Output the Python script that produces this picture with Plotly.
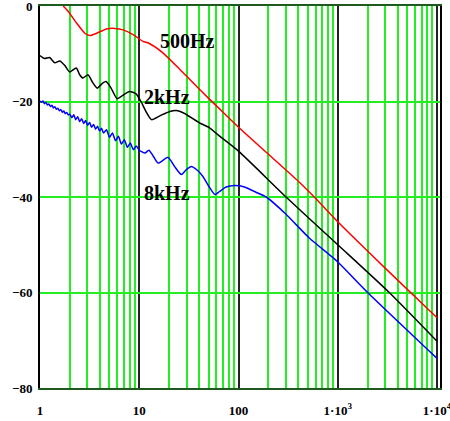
import plotly.graph_objects as go

# Frequency axis values (Hz) and level (dB)
freq_500 = [1.71, 1.92, 2.34, 2.83, 3.18, 3.72, 4.68, 5.67, 6.87, 8.66, 10.9, 12.5,
            17.3, 25.7, 40.6, 64, 100, 410, 580, 1000, 3000, 10000]
db_500 = [0.0, -1.1, -3.6, -5.7, -6.2, -5.7, -4.8, -4.7, -5.0, -6.0, -7.4, -7.8,
          -9.8, -13.3, -17.5, -21.5, -25.4, -36.9, -40.0, -45.2, -54.9, -65.3]

freq_2k = [1.0, 1.11, 1.25, 1.41, 1.58, 1.77, 1.99, 2.32, 2.51, 2.70, 3.04, 3.41,
           3.77, 4.30, 4.64, 5.20, 5.98, 6.82, 7.97, 9.29, 10.4, 11.7, 13.3, 16.1,
           20.3, 23.7, 28, 40.6, 51.1, 64, 100, 301, 1000, 3300, 10000]
db_2k = [-10.4, -11.0, -10.8, -11.9, -11.5, -12.4, -13.8, -13.0, -14.4, -15.1, -14.4, -16.1,
         -17.2, -16.1, -15.8, -17.2, -19.4, -18.7, -17.9, -18.4, -20.0, -22.1, -23.8, -23.0,
         -22.1, -21.9, -22.4, -24.5, -25.5, -27.2, -30.4, -40.0, -50.0, -60.0, -70.2]

freq_8k = [1.0, 1.035, 1.072, 1.109, 1.148, 1.189, 1.230, 1.274, 1.318, 1.365, 1.413,
           1.462, 1.514, 1.567, 1.622, 1.679, 1.738, 1.799, 1.862, 1.928, 1.995,
           2.089, 2.188, 2.291, 2.399, 2.512, 2.630, 2.754, 2.884, 3.020, 3.162,
           3.311, 3.467, 3.631, 3.802, 3.981, 4.169, 4.365,
           4.677, 5.012, 5.370, 5.754, 6.166, 6.607, 7.079, 7.586, 8.128, 8.710, 9.333,
           10.0, 11.4, 12.5, 13.8, 15.5, 19.5, 22.5, 26.6, 30.0, 33.5, 38.0, 43.8,
           50.0, 58.0, 64, 75, 91, 115, 150, 190, 301, 517, 1000, 2000, 10000]
db_8k = [-19.9, -20.15, -19.9, -20.45, -20.2, -20.75, -20.5, -21.05, -20.8, -21.35, -21.1,
         -21.65, -21.4, -21.95, -21.7, -22.25, -22.0, -22.55, -22.3, -22.85, -22.6,
         -23.4, -22.8, -23.8, -23.2, -24.2, -23.6, -24.6, -24.0, -25.0, -24.4,
         -25.4, -24.8, -25.8, -25.2, -26.2, -25.6, -26.6,
         -25.9, -27.5, -26.6, -28.2, -27.3, -28.9, -28.0, -29.6, -28.7, -30.1, -29.3,
         -30.2, -30.8, -30.2, -31.4, -32.9, -31.7, -33.5, -35.3, -34.2, -33.6, -34.3, -35.7,
         -37.7, -39.5, -38.9, -37.9, -37.6, -37.9, -39.0, -40.0, -43.6, -48.6, -53.6, -60.0, -73.8]

labels = ["500Hz", "2kHz", "8kHz"]

x_ticks = [1, 10, 100, 1000, 10000]
x_ticktext = ["1", "10", "100", "1\u00b710<sup>3</sup>", "1\u00b710<sup>4</sup>"]
y_ticks = [-80, -60, -40, -20, 0]
y_ticktext = ["\u221280", "\u221260", "\u221240", "\u221220", "0"]

# minor green grid at 2..9 of every decade
minor_vals = [m * 10 ** d for d in range(4) for m in range(2, 10)]

fig = go.Figure()

for f, db, col in [(freq_500, db_500, "#ff0000"),
                   (freq_2k, db_2k, "#000000"),
                   (freq_8k, db_8k, "#0000ff")]:
    fig.add_trace(go.Scatter(
        x=f, y=db, mode="lines",
        line=dict(color=col, width=1.5, shape="spline", smoothing=0.6),
        showlegend=False, hoverinfo="skip"
    ))

# curve labels (x in log10 units for a log axis)
label_pos = [(1.49, -7.3), (1.284, -19.0), (1.284, -39.1)]
for txt, (lx, ly) in zip(labels, label_pos):
    fig.add_annotation(
        x=lx, y=ly, text="<b>" + txt + "</b>", showarrow=False,
        font=dict(family="Liberation Serif", size=20, color="black"),
        bgcolor="rgba(0,0,0,0)"
    )

tick_font = dict(family="Liberation Serif", size=13, color="black", weight="bold")

fig.update_layout(
    width=450, height=421,
    margin=dict(l=40, r=10, t=6, b=33),
    paper_bgcolor="white", plot_bgcolor="white",
    xaxis=dict(
        type="log", range=[0, 4.03], automargin=False, ticklabeloverflow="allow",
        tickmode="array", tickvals=x_ticks, ticktext=x_ticktext,
        showgrid=True, gridcolor="#222222", gridwidth=2,
        minor=dict(tickmode="array", tickvals=minor_vals, showgrid=True,
                   gridcolor="#22ee22", gridwidth=1.5, ticks=""),
        showline=True, linecolor="#1e5a1e", linewidth=2, mirror=True,
        ticks="outside", ticklen=9, tickcolor="rgba(0,0,0,0)",
        tickfont=tick_font, zeroline=False
    ),
    yaxis=dict(
        range=[-80, 0], automargin=False, ticklabeloverflow="allow",
        tickmode="array", tickvals=y_ticks, ticktext=y_ticktext,
        showgrid=True, gridcolor="#22ee22", gridwidth=1.5,
        showline=True, linecolor="#000000", linewidth=2, mirror=True,
        ticks="outside", ticklen=3, tickcolor="rgba(0,0,0,0)",
        tickfont=tick_font, zeroline=False
    ),
)

# page body has a default 8px margin; drop it so the figure sits at the corner
fig.write_html("out.html", config={"displayModeBar": False},
               post_script="document.body.style.margin='0';document.body.style.overflow='hidden';")
